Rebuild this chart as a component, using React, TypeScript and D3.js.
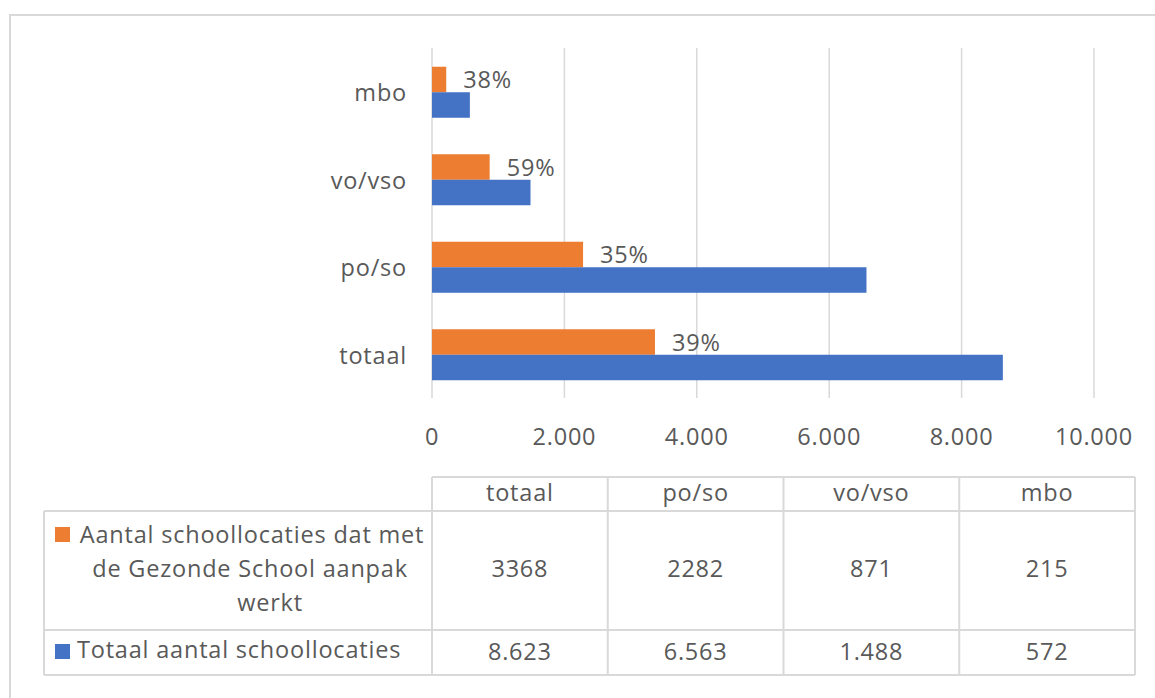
import React from "react";
import * as d3 from "d3";

const categories = ["totaal", "po/so", "vo/vso", "mbo"];
const gezondeSchool = [3368, 2282, 871, 215];
const totaalLocaties = [8623, 6563, 1488, 572];
const pctLabels = ["39%", "35%", "59%", "38%"];
const tableGezonde = ["3368", "2282", "871", "215"];
const tableTotaal = ["8.623", "6.563", "1.488", "572"];
const xTicks = [0, 2000, 4000, 6000, 8000, 10000];
const seriesNames = [
  ["Aantal schoollocaties dat met", "de Gezonde School aanpak", "werkt"],
  ["Totaal aantal schoollocaties"],
];

const ORANGE = "#ED7D31";
const BLUE = "#4472C4";
const GRID = "#d9d9d9";
const TEXT = "#595959";
const FONT = "'Open Sans', 'Noto Sans', sans-serif";
const FS = 23.5;
const LS = 0.8;

export default function App() {
  const W = 1155, H = 698;
  const x = d3.scaleLinear().domain([0, 10000]).range([432, 1094]);
  const topDown = [...categories].reverse();
  const y = d3.scaleBand<string>().domain(topDown).range([48.5, 398.5]).paddingInner(0.417).paddingOuter(0.2085);
  const sub = d3.scaleBand<string>().domain(["g", "t"]).range([0, y.bandwidth()]);
  const fmt = (v: number) => (v === 0 ? "0" : d3.format(",")(v).replace(/,/g, "."));

  const colX = d3.scaleBand<string>().domain(categories).range([432, 1135]);
  const tblLeft = 44, tblRight = 1135;
  const hTop = 477, hBot = 511, r1Bot = 630, r2Bot = 675;

  return (
    <svg width={W} height={H} style={{ position: "absolute", left: 0, top: 0, background: "#fff" }} fontFamily={FONT} letterSpacing={LS}>
      <rect x={10} y={15} width={1200} height={800} fill="#fff" stroke={GRID} strokeWidth={2} />
      {/* gridlines */}
      {xTicks.map((t) => (
        <line key={t} x1={x(t)} x2={x(t)} y1={48} y2={398} stroke={GRID} strokeWidth={1.5} />
      ))}
      {/* bars */}
      {categories.map((c, i) => (
        <g key={c}>
          <rect x={x(0)} y={(y(c) as number) + (sub("g") as number)} width={x(gezondeSchool[i]) - x(0)} height={sub.bandwidth()} fill={ORANGE} />
          <rect x={x(0)} y={(y(c) as number) + (sub("t") as number)} width={x(totaalLocaties[i]) - x(0)} height={sub.bandwidth()} fill={BLUE} />
          <text x={x(gezondeSchool[i]) + 17} y={(y(c) as number) + (sub("g") as number) + sub.bandwidth() / 2} dominantBaseline="central" fontSize={FS} fill={TEXT}>
            {pctLabels[i]}
          </text>
          <text x={407} y={(y(c) as number) + y.bandwidth() / 2} textAnchor="end" dominantBaseline="central" fontSize={FS} fill={TEXT}>
            {c}
          </text>
        </g>
      ))}
      {/* axis labels */}
      {xTicks.map((t) => (
        <text key={t} x={x(t)} y={436} textAnchor="middle" dominantBaseline="central" fontSize={FS} fill={TEXT}>
          {fmt(t)}
        </text>
      ))}
      {/* data table */}
      <g stroke={GRID} strokeWidth={2} fill="none">
        <line x1={432} x2={tblRight} y1={hTop} y2={hTop} />
        <line x1={tblLeft} x2={tblRight} y1={hBot} y2={hBot} />
        <line x1={tblLeft} x2={tblRight} y1={r1Bot} y2={r1Bot} />
        <line x1={tblLeft} x2={tblRight} y1={r2Bot} y2={r2Bot} />
        <line x1={tblLeft} x2={tblLeft} y1={hBot} y2={r2Bot} />
        {categories.map((c) => (
          <line key={c} x1={colX(c)} x2={colX(c)} y1={hTop} y2={r2Bot} />
        ))}
        <line x1={tblRight} x2={tblRight} y1={hTop} y2={r2Bot} />
      </g>
      {categories.map((c, i) => {
        const cx = (colX(c) as number) + colX.bandwidth() / 2;
        return (
          <g key={c} fontSize={FS} fill={TEXT} textAnchor="middle">
            <text x={cx} y={492} dominantBaseline="central">{c}</text>
            <text x={cx} y={568} dominantBaseline="central">{tableGezonde[i]}</text>
            <text x={cx} y={651} dominantBaseline="central">{tableTotaal[i]}</text>
          </g>
        );
      })}
      <rect x={55} y={527} width={15} height={15} fill={ORANGE} />
      <rect x={55} y={644} width={15} height={15} fill={BLUE} />
      <g fontSize={FS} fill={TEXT}>
        <text x={252} y={534} textAnchor="middle" dominantBaseline="central">{seriesNames[0][0]}</text>
        <text x={250} y={568} textAnchor="middle" dominantBaseline="central">{seriesNames[0][1]}</text>
        <text x={270} y={602} textAnchor="middle" dominantBaseline="central">{seriesNames[0][2]}</text>
        <text x={77} y={649} dominantBaseline="central">{seriesNames[1][0]}</text>
      </g>
    </svg>
  );
}
